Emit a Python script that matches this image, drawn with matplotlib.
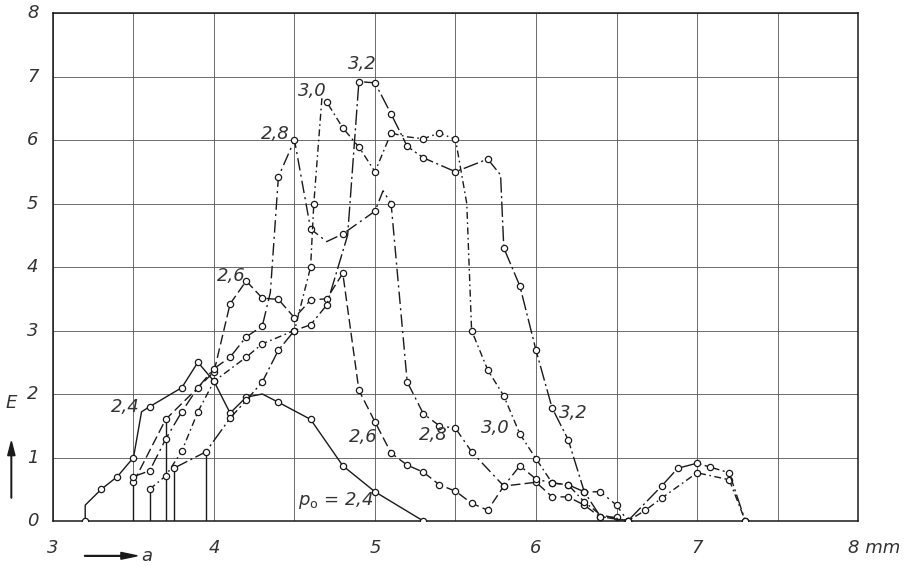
import matplotlib.pyplot as plt

plt.rcParams['font.family'] = ['DejaVu Sans']
plt.rcParams['mathtext.fontset'] = 'dejavusans'

# start verticals (a where the curve leaves the axis, E at top)
start_a = [3.5, 3.6, 3.7, 3.75, 3.95]
start_E = [0.7, 0.5, 1.6, 0.83, 1.09]

# p0 = 2.4
a_24 = [3.2, 3.2, 3.3, 3.4, 3.5, 3.55, 3.6, 3.8, 3.9, 4.0, 4.1, 4.2, 4.3, 4.4, 4.6, 4.8, 5.0, 5.3]
E_24 = [0, 0.25, 0.5, 0.7, 1.0, 1.72, 1.8, 2.1, 2.5, 2.2, 1.7, 1.95, 2.0, 1.87, 1.6, 0.87, 0.46, 0]
plain_24 = [1, 5, 12]

# p0 = 2.6
a_26 = [3.5, 3.7, 4.0, 4.1, 4.2, 4.3, 4.4, 4.5, 4.6, 4.7, 4.8, 4.9, 5.0, 5.1, 5.2, 5.3,
        5.4, 5.5, 5.6, 5.7, 5.8, 6.0, 6.1, 6.2, 6.3, 6.4, 6.5, 6.57]
E_26 = [0.61, 1.6, 2.35, 3.42, 3.78, 3.51, 3.49, 3.2, 3.48, 3.5, 3.9, 2.06, 1.56, 1.07, 0.88, 0.77,
        0.57, 0.47, 0.28, 0.17, 0.55, 0.61, 0.38, 0.38, 0.25, 0.06, 0.06, 0]
plain_26 = []

# p0 = 2.8
a_28 = [3.5, 3.6, 3.7, 3.8, 3.9, 4.0, 4.1, 4.2, 4.3, 4.35, 4.4, 4.5, 4.6, 4.7, 4.8, 5.0, 5.05, 5.1,
        5.2, 5.3, 5.4, 5.5, 5.6, 5.8, 5.9, 6.0, 6.1, 6.2, 6.3, 6.4, 6.5, 6.57]
E_28 = [0.7, 0.79, 1.29, 1.72, 2.1, 2.4, 2.58, 2.9, 3.07, 3.6, 5.42, 6.0, 4.6, 4.4, 4.52, 4.88, 5.2, 5.0,
        2.19, 1.69, 1.5, 1.46, 1.09, 0.55, 0.87, 0.66, 0.6, 0.57, 0.46, 0.46, 0.25, 0]
plain_28 = [9, 13, 16]

# p0 = 3.0
a_30 = [3.6, 3.7, 3.8, 3.9, 4.0, 4.2, 4.3, 4.5, 4.6, 4.62, 4.67, 4.7, 4.8, 4.9, 5.0, 5.1, 5.2, 5.3,
        5.4, 5.5, 5.57, 5.6, 5.7, 5.8, 5.9, 6.0, 6.1, 6.2, 6.3, 6.4, 6.57,
        6.68, 6.78, 7.0, 7.2, 7.3]
E_30 = [0.5, 0.71, 1.1, 1.72, 2.2, 2.58, 2.79, 3.0, 4.0, 5.0, 6.65, 6.6, 6.19, 5.89, 5.5, 6.11, 6.05, 6.02,
        6.11, 6.01, 5.0, 3.0, 2.38, 1.97, 1.37, 0.98, 0.6, 0.57, 0.3, 0.1, 0,
        0.17, 0.36, 0.76, 0.65, 0]
plain_30 = [10, 16, 20, 29]

# p0 = 3.2
a_32 = [3.75, 3.95, 4.1, 4.2, 4.3, 4.4, 4.5, 4.6, 4.7, 4.83, 4.9, 5.0, 5.1, 5.2, 5.3, 5.5, 5.7,
        5.78, 5.8, 5.9, 6.0, 6.1, 6.2, 6.3, 6.4, 6.57, 6.78, 6.88, 7.0, 7.08, 7.2, 7.3]
E_32 = [0.83, 1.09, 1.62, 1.9, 2.19, 2.69, 3.0, 3.09, 3.4, 4.5, 6.92, 6.9, 6.41, 5.9, 5.72, 5.5, 5.7,
        5.45, 4.3, 3.7, 2.69, 1.78, 1.28, 0.46, 0.07, 0, 0.55, 0.83, 0.91, 0.85, 0.76, 0]
plain_32 = [9, 17]

curves = [
    (a_24, E_24, plain_24, '-'),
    (a_26, E_26, plain_26, (0, (7, 3))),
    (a_28, E_28, plain_28, (0, (9, 3, 1.5, 3))),
    (a_30, E_30, plain_30, (0, (5, 2.5, 1.2, 2.5))),
    (a_32, E_32, plain_32, (0, (11, 2.5, 1.5, 2.5))),
]

fig = plt.figure(figsize=(9.09, 5.66), dpi=100)
ax = fig.add_axes([0.0583, 0.0795, 0.8856, 0.8975])

ink = '#1a1a1a'
for a, E, plain, ls in curves:
    marks = [i for i in range(len(a)) if i not in plain]
    ax.plot(a, E, color=ink, lw=1.0, ls=ls, marker='o', markevery=marks,
            ms=4.5, mfc='white', mec=ink, mew=0.9, zorder=3)

ax.vlines(start_a, 0, start_E, color=ink, lw=1.0, zorder=2)

ax.set_xlim(3, 8)
ax.set_ylim(0, 8)
ax.set_xticks([3, 3.5, 4, 4.5, 5, 5.5, 6, 6.5, 7, 7.5, 8])
ax.set_yticks(range(9))
ax.grid(True, color='#555555', lw=0.6)
ax.tick_params(length=0, labelleft=False, labelbottom=False)
for s in ax.spines.values():
    s.set_color(ink)
    s.set_linewidth(1.1)

lab = dict(fontsize=13, style='italic', color='#333333', fontweight='light')
for v in range(9):
    ax.text(-0.018, v, str(v), transform=ax.get_yaxis_transform(), ha='right',
            va='center', **lab)
for v in [3, 4, 5, 6, 7]:
    ax.text(v, -0.035, str(v), transform=ax.get_xaxis_transform(), ha='center',
            va='top', **lab)
ax.text(7.94, -0.035, '8 mm', transform=ax.get_xaxis_transform(), ha='left',
        va='top', **lab)

# curve labels
ax.text(3.36, 1.72, '2,4', **lab)
ax.text(4.02, 3.78, '2,6', **lab)
ax.text(4.29, 6.02, '2,8', **lab)
ax.text(4.52, 6.7, '3,0', **lab)
ax.text(4.83, 7.12, '3,2', **lab)
ax.text(4.84, 1.25, '2,6', **lab)
ax.text(5.27, 1.28, '2,8', **lab)
ax.text(5.66, 1.38, '3,0', **lab)
ax.text(6.14, 1.63, '3,2', **lab)
ax.text(4.52, 0.25, r'$p_{\rm o}$ = 2,4', **lab)

# axis names with arrows
fig.text(0.006, 0.28, 'E', **lab)
fig.patches.append(plt.matplotlib.patches.FancyArrow(
    0.0125, 0.12, 0, 0.1, width=0.0006, head_width=0.008, head_length=0.025,
    color=ink, transform=fig.transFigure, length_includes_head=True))
fig.patches.append(plt.matplotlib.patches.FancyArrow(
    0.093, 0.018, 0.058, 0, width=0.0012, head_width=0.012, head_length=0.018,
    color=ink, transform=fig.transFigure, length_includes_head=True))
fig.text(0.155, 0.018, 'a', va='center', **lab)

fig.savefig('out.png', dpi=100)
